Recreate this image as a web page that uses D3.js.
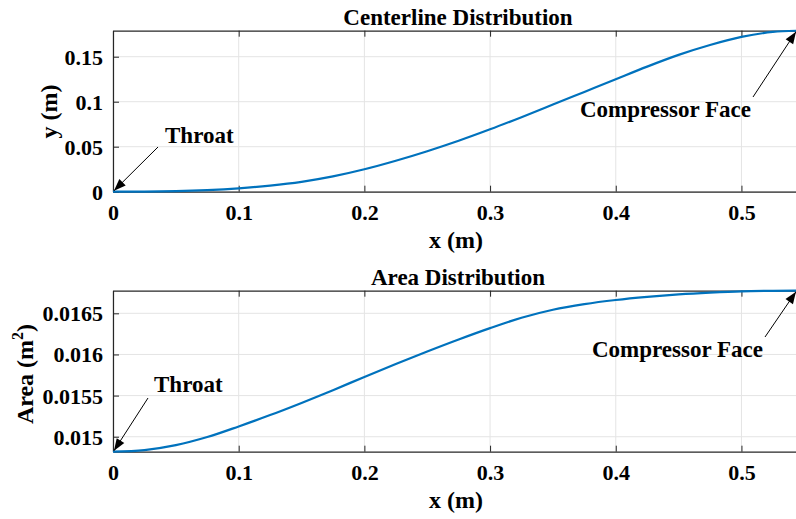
<!DOCTYPE html>
<html><head><meta charset="utf-8">
<script src="https://cdn.jsdelivr.net/npm/d3@7"></script>
<style>body{margin:0;background:#fff}svg{display:block}text{font-family:"Liberation Serif","Times New Roman",serif;font-weight:bold;fill:#000}</style>
</head><body>
<script>
// ---- data ----
const xVals = [0,0.025,0.05,0.075,0.1,0.125,0.15,0.175,0.2,0.225,0.25,0.275,0.3,0.325,0.35,0.375,0.4,0.425,0.45,0.475,0.5,0.525,0.545];
const centerY = [0,0.0001,0.0006,0.0018,0.0038,0.0068,0.0110,0.0170,0.0249,0.0344,0.0450,0.0566,0.0693,0.0828,0.0968,0.1109,0.1250,0.1390,0.1520,0.1630,0.1720,0.1775,0.1789];
const areaY = [0.014818,0.014838,0.014898,0.014996,0.015125,0.015263,0.015411,0.015566,0.015727,0.015884,0.016036,0.016182,0.016320,0.016446,0.016544,0.016612,0.016662,0.016700,0.016730,0.016752,0.016768,0.016773,0.016775];
const xTicks = [0,0.1,0.2,0.3,0.4,0.5];
const yTicksTop = [0,0.05,0.1,0.15];
const yTicksBot = [0.015,0.0155,0.016,0.0165];
const xDomain = [0,0.545];
const yDomainTop = [0,0.1789];
const yDomainBot = [0.014818,0.016775];

const W=796,H=519;
const svg=d3.select("body").append("svg").attr("width",W).attr("height",H);

function panel(cfg){
  const L=113,R=798,T=cfg.top,B=cfg.bottom;
  const x=d3.scaleLinear().domain(xDomain).range([L,R]);
  const y=d3.scaleLinear().domain(cfg.yDomain).range([B,T]);
  const g=svg.append("g");
  // grid
  g.append("g").selectAll("line").data(xTicks).join("line")
    .attr("x1",d=>x(d)).attr("x2",d=>x(d)).attr("y1",T).attr("y2",B)
    .attr("stroke","#e4e4e4").attr("stroke-width",1);
  g.append("g").selectAll("line").data(cfg.yTicks).join("line")
    .attr("x1",L).attr("x2",R).attr("y1",d=>y(d)).attr("y2",d=>y(d))
    .attr("stroke","#e4e4e4").attr("stroke-width",1);
  // axes
  const ax=g.append("g").attr("transform",`translate(0,${B})`)
    .call(d3.axisBottom(x).tickValues(xTicks).tickSizeInner(-6).tickSizeOuter(0).tickPadding(14).tickFormat(d=>d3.format("")(d)));
  const axTop=g.append("g").attr("transform",`translate(0,${T})`)
    .call(d3.axisTop(x).tickValues(xTicks).tickSizeInner(-6).tickSizeOuter(0).tickFormat(""));
  const ay=g.append("g").attr("transform",`translate(${L},0)`)
    .call(d3.axisLeft(y).tickValues(cfg.yTicks).tickSizeInner(-6).tickSizeOuter(0).tickPadding(10).tickFormat(d=>String(+d.toPrecision(4))));
  [ax,axTop,ay].forEach(a=>{
    a.select(".domain").attr("stroke","#262626").attr("stroke-width",1.2);
    a.selectAll(".tick line").attr("stroke","#262626").attr("stroke-width",1);
    a.selectAll("text").attr("font-size",22).attr("font-family","Liberation Serif").attr("font-weight","bold").attr("fill","#000");
  });
  ax.selectAll("text").attr("dy",0).attr("y",28);
  ay.selectAll("text").attr("dy","0.34em");
  // line
  g.append("path").datum(xVals.map((v,i)=>[v,cfg.values[i]]))
    .attr("fill","none").attr("stroke","#0072BD").attr("stroke-width",2.2)
    .attr("d",d3.line().x(d=>x(d[0])).y(d=>y(d[1])).curve(d3.curveMonotoneX));
  // title
  g.append("text").attr("x",458).attr("y",cfg.titleY).attr("text-anchor","middle").attr("font-size",23).text(cfg.title);
  g.append("text").attr("x",456).attr("y",cfg.xlabY).attr("text-anchor","middle").attr("font-size",24).text("x (m)");
  cfg.ylab(g);
  // annotations
  function arrow(x1,y1,x2,y2){
    g.append("line").attr("x1",x1).attr("y1",y1).attr("x2",x2).attr("y2",y2).attr("stroke","#000").attr("stroke-width",1);
    const a=Math.atan2(y2-y1,x2-x1),len=12,w=4.5;
    const bx=x2-len*Math.cos(a),by=y2-len*Math.sin(a);
    const px=-Math.sin(a)*w,py=Math.cos(a)*w;
    g.append("path").attr("d",`M${x2},${y2}L${bx+px},${by+py}L${bx-px},${by-py}Z`).attr("fill","#000");
  }
  const last=xVals.length-1;
  arrow(cfg.throatFrom[0],cfg.throatFrom[1],x(xVals[0])+1,y(cfg.values[0])-1);
  arrow(cfg.cfFrom[0],cfg.cfFrom[1],x(xVals[last])-2,y(cfg.values[last])+1);
  g.append("text").attr("x",cfg.throatText[0]).attr("y",cfg.throatText[1]).attr("font-size",23).text("Throat");
  g.append("text").attr("x",cfg.cfText[0]).attr("y",cfg.cfText[1]).attr("font-size",23).text("Compressor Face");
}

panel({top:30.7,bottom:191.7,yDomain:yDomainTop,yTicks:yTicksTop,values:centerY,
  title:"Centerline Distribution",titleY:25,xlabY:248,
  ylab:g=>g.append("text").attr("transform","translate(57,111.5) rotate(-90)").attr("text-anchor","middle").attr("font-size",24).text("y (m)"),
  throatFrom:[158,147],cfFrom:[753,97],throatText:[165,143],cfText:[580,117]});
panel({top:290.7,bottom:451.7,yDomain:yDomainBot,yTicks:yTicksBot,values:areaY,
  title:"Area Distribution",titleY:285,xlabY:508,
  ylab:g=>{const t=g.append("text").attr("transform","translate(33,374) rotate(-90)").attr("text-anchor","middle").attr("font-size",24);
    t.append("tspan").text("Area (m");
    t.append("tspan").attr("font-size",16).attr("dy",-10).text("2");
    t.append("tspan").attr("dy",10).text(")");},
  throatFrom:[148,398],cfFrom:[765,337],throatText:[154,392],cfText:[592,357]});
</script>
</body></html>
